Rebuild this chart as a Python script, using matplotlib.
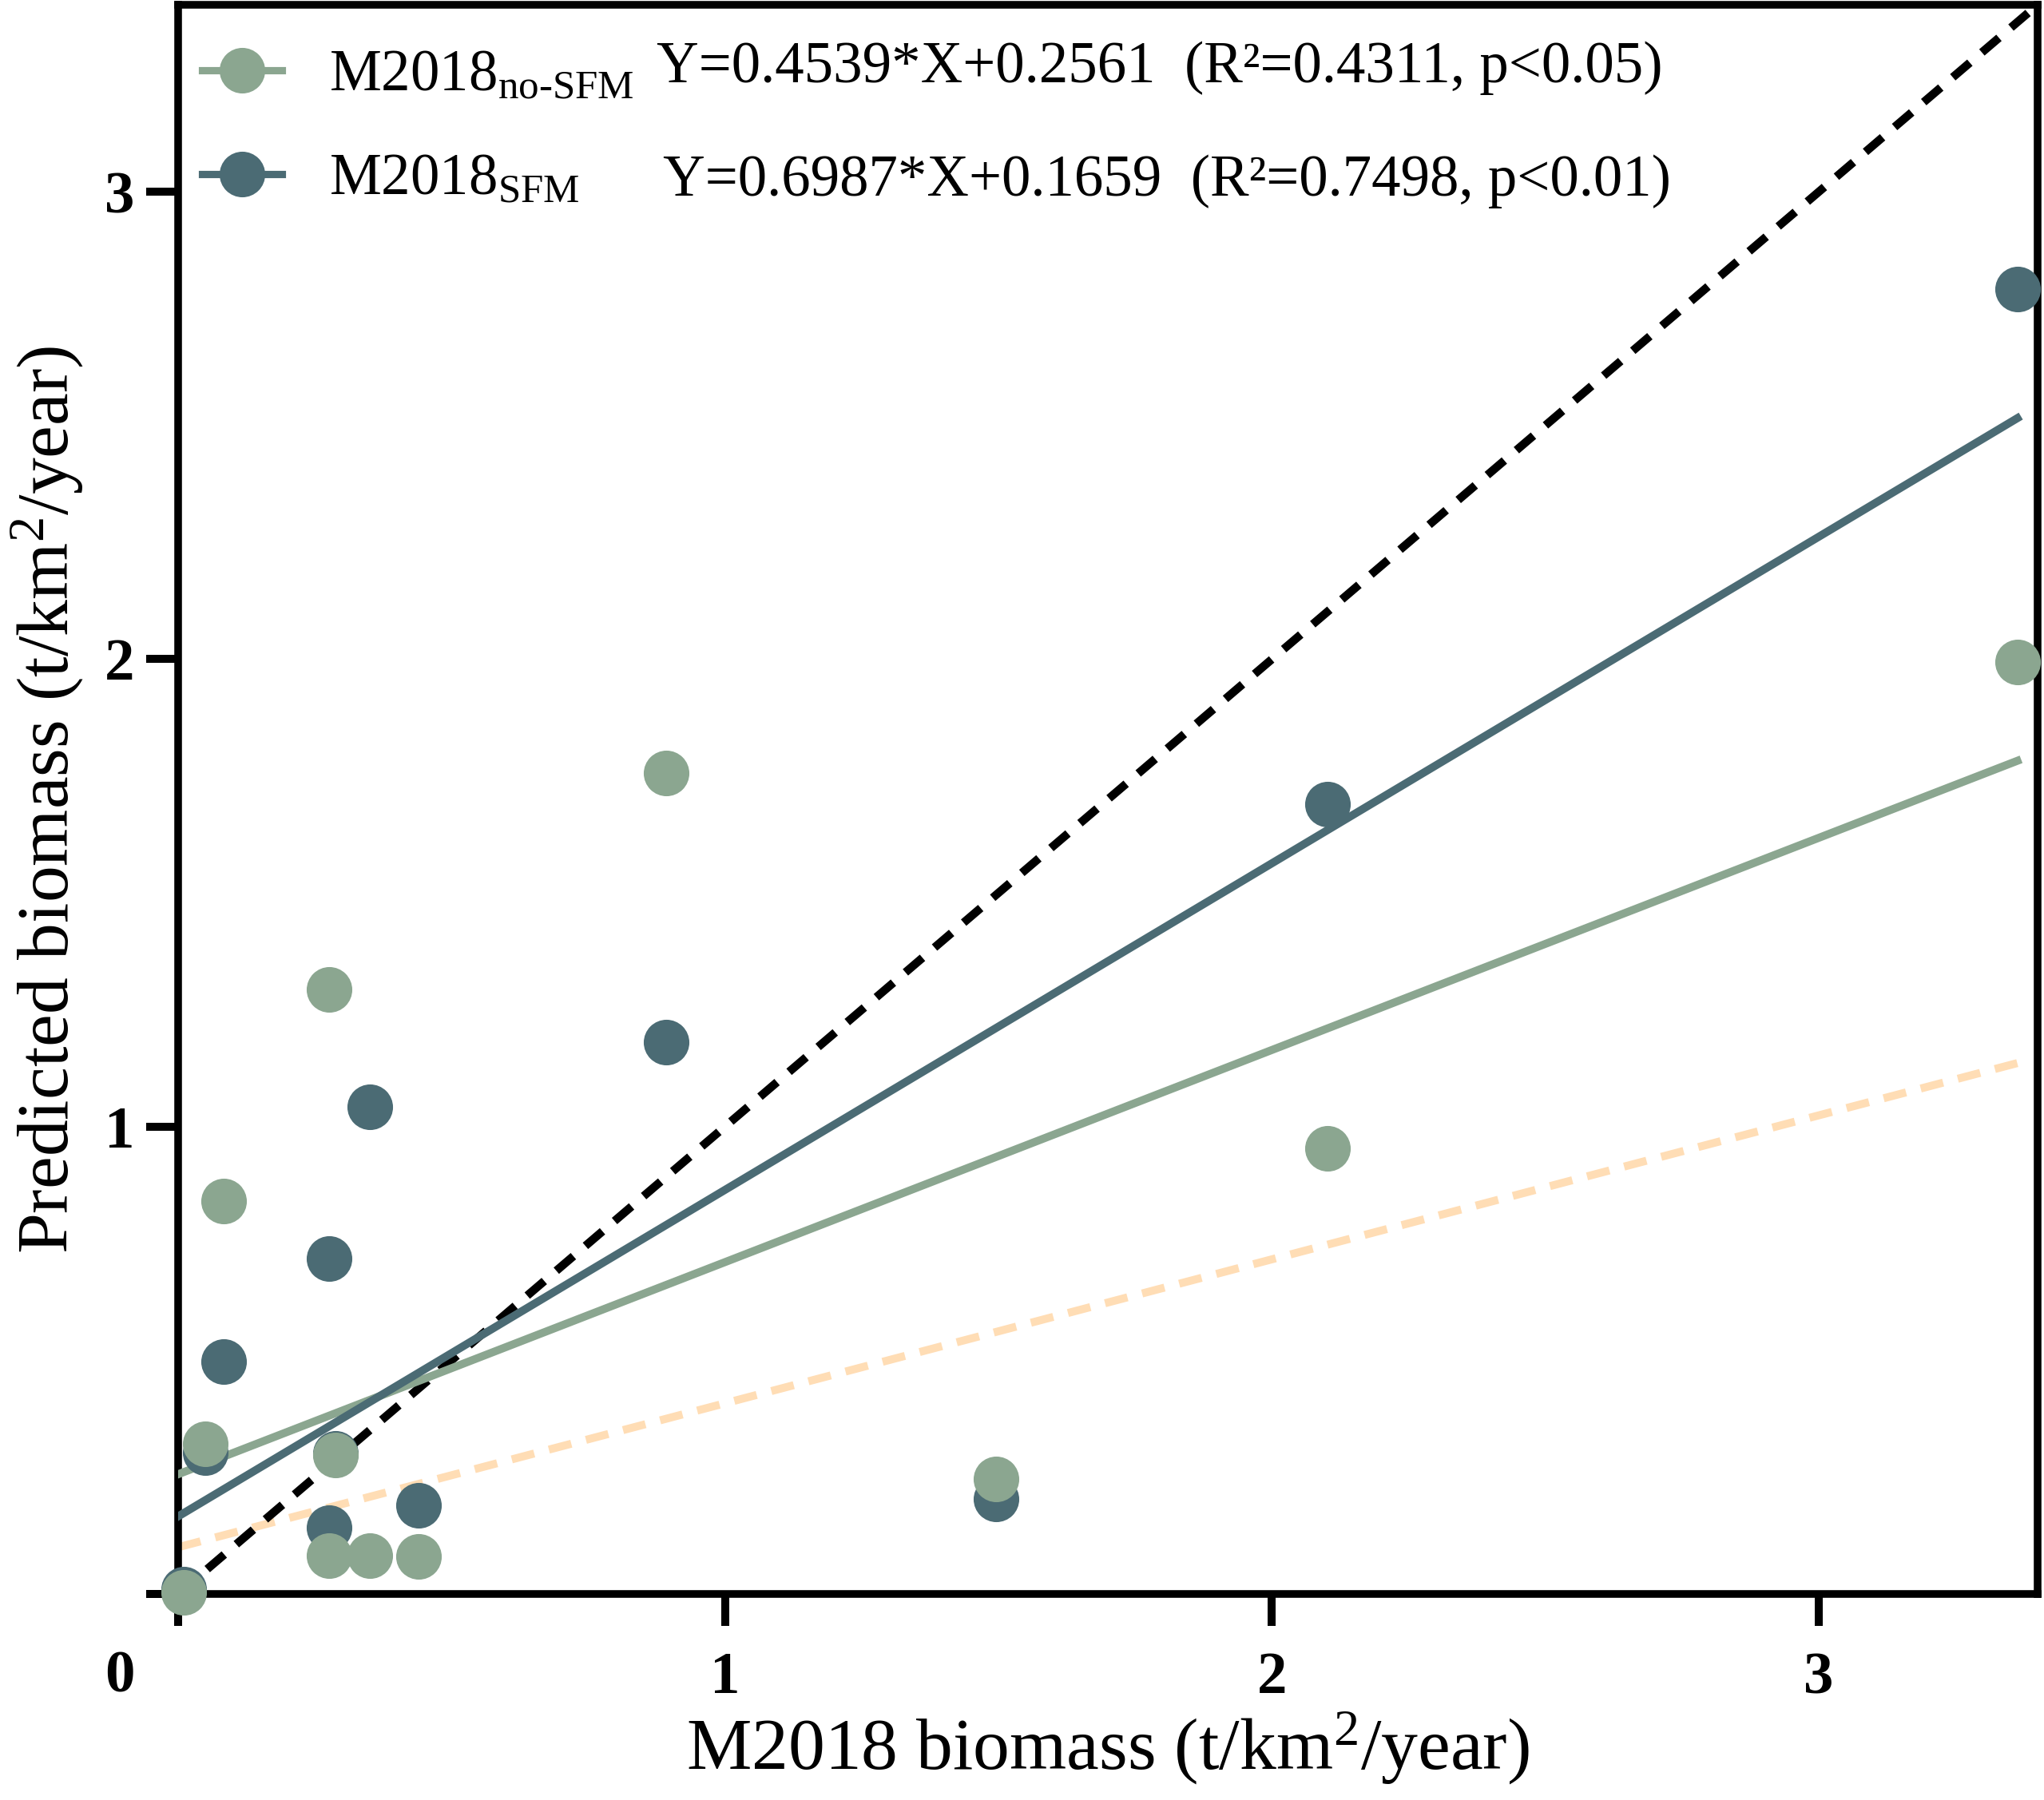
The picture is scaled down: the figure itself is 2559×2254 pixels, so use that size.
import matplotlib
matplotlib.use('Agg')
import matplotlib.pyplot as plt
from matplotlib.lines import Line2D
import numpy as np

plt.rcParams['font.family'] = ['Liberation Serif', 'DejaVu Serif']
plt.rcParams['mathtext.fontset'] = 'custom'
plt.rcParams['mathtext.rm'] = 'Liberation Serif'
plt.rcParams['mathtext.it'] = 'Liberation Serif:italic'
plt.rcParams['mathtext.bf'] = 'Liberation Serif:bold'

# 数据
m2018 = [0.01, 0.05, 0.083, 0.276, 0.276, 0.288, 0.35, 0.439, 0.893, 1.496, 2.102, 3.363]
pred_no_sfm = [0.004, 0.322, 0.840, 1.293, 0.082, 0.298, 0.082, 0.080, 1.757, 0.246, 0.954, 1.994]
pred_sfm = [0.01, 0.303, 0.497, 0.718, 0.141, 0.30, 1.043, 0.190, 1.180, 0.204, 1.690, 2.791]

fit_no_sfm = (0.4539, 0.2561)
fit_sfm = (0.6987, 0.1659)
fit_ref = (0.308, 0.10)   # light orange dashed line

series_labels = [r'M2018$_{\text{no-SFM}}$', r'M2018$_{\text{SFM}}$']
equations = [
    'Y=0.4539*X+0.2561  (R²=0.4311, p<0.05)',
    'Y=0.6987*X+0.1659  (R²=0.7498, p<0.01)',
]
xticks = [0, 1, 2, 3]
yticks = [0, 1, 2, 3]

c_light = '#8BA690'
c_dark = '#4B6B74'
c_peach = '#FFDDB5'

fig = plt.figure(figsize=(2559 / 300, 2254 / 300), dpi=300)
ax = fig.add_axes([223 / 2559, 258 / 2254, 2328 / 2559, 1990 / 2254])

xs = np.array([0, max(m2018)])
ax.plot(xs, fit_ref[0] * xs + fit_ref[1], color=c_peach, lw=2.4, dashes=(2.9, 1.9), zorder=2)
ax.plot([0, 3.4], [0, 3.4], color='black', lw=2.5, dashes=(2.7, 1.9), zorder=2)
ax.plot(xs, fit_no_sfm[0] * xs + fit_no_sfm[1], color=c_light, lw=2.4, zorder=3)
ax.plot(xs, fit_sfm[0] * xs + fit_sfm[1], color=c_dark, lw=2.4, zorder=3)

ax.plot(m2018, pred_sfm, 'o', color=c_dark, ms=13.7, mew=0, zorder=4, clip_on=False)
ax.plot(m2018, pred_no_sfm, 'o', color=c_light, ms=13.7, mew=0, zorder=5, clip_on=False)

ax.set_xlim(0, 3.4)
ax.set_ylim(0, 3.4)
ax.set_xticks(xticks)
ax.set_xticklabels([''] + [str(t) for t in xticks[1:]])
ax.set_yticks(yticks)
ax.set_yticklabels([''] + [str(t) for t in yticks[1:]])
ax.tick_params(direction='out', length=9.6, width=2.4, labelsize=18)
ax.tick_params(axis='x', pad=7.7)
ax.tick_params(axis='y', pad=3.5)
for lab in ax.get_xticklabels() + ax.get_yticklabels():
    lab.set_fontweight('bold')
for sp in ax.spines.values():
    sp.set_linewidth(2.3)
ax.annotate('0', xy=(0, 0), xytext=(-17.5, -29.3), textcoords='offset points',
            ha='center', va='baseline', fontsize=18, fontweight='bold')

ax.set_xlabel('M2018 biomass (t/km$^2$/year)', fontsize=22, labelpad=1.3)
ax.set_ylabel('Predicted biomass (t/km$^2$/year)', fontsize=22, labelpad=6)

handles = [
    Line2D([], [], color=c_light, lw=2.2, marker='o', ms=13.7, mew=0),
    Line2D([], [], color=c_dark, lw=2.2, marker='o', ms=13.7, mew=0),
]
ax.legend(handles, series_labels, loc='upper left', bbox_to_anchor=(0.0128, 0.972),
          frameon=False, fontsize=17.5, handlelength=1.38, handletextpad=0.8,
          labelspacing=0.86, borderpad=0, borderaxespad=0)

# equation text next to each legend entry
ax.text(0.2574, 0.9513, equations[0], transform=ax.transAxes, fontsize=17.5,
        ha='left', va='baseline')
ax.text(0.2608, 0.8799, equations[1], transform=ax.transAxes, fontsize=17.5,
        ha='left', va='baseline')

plt.savefig('out.png', dpi=300)
